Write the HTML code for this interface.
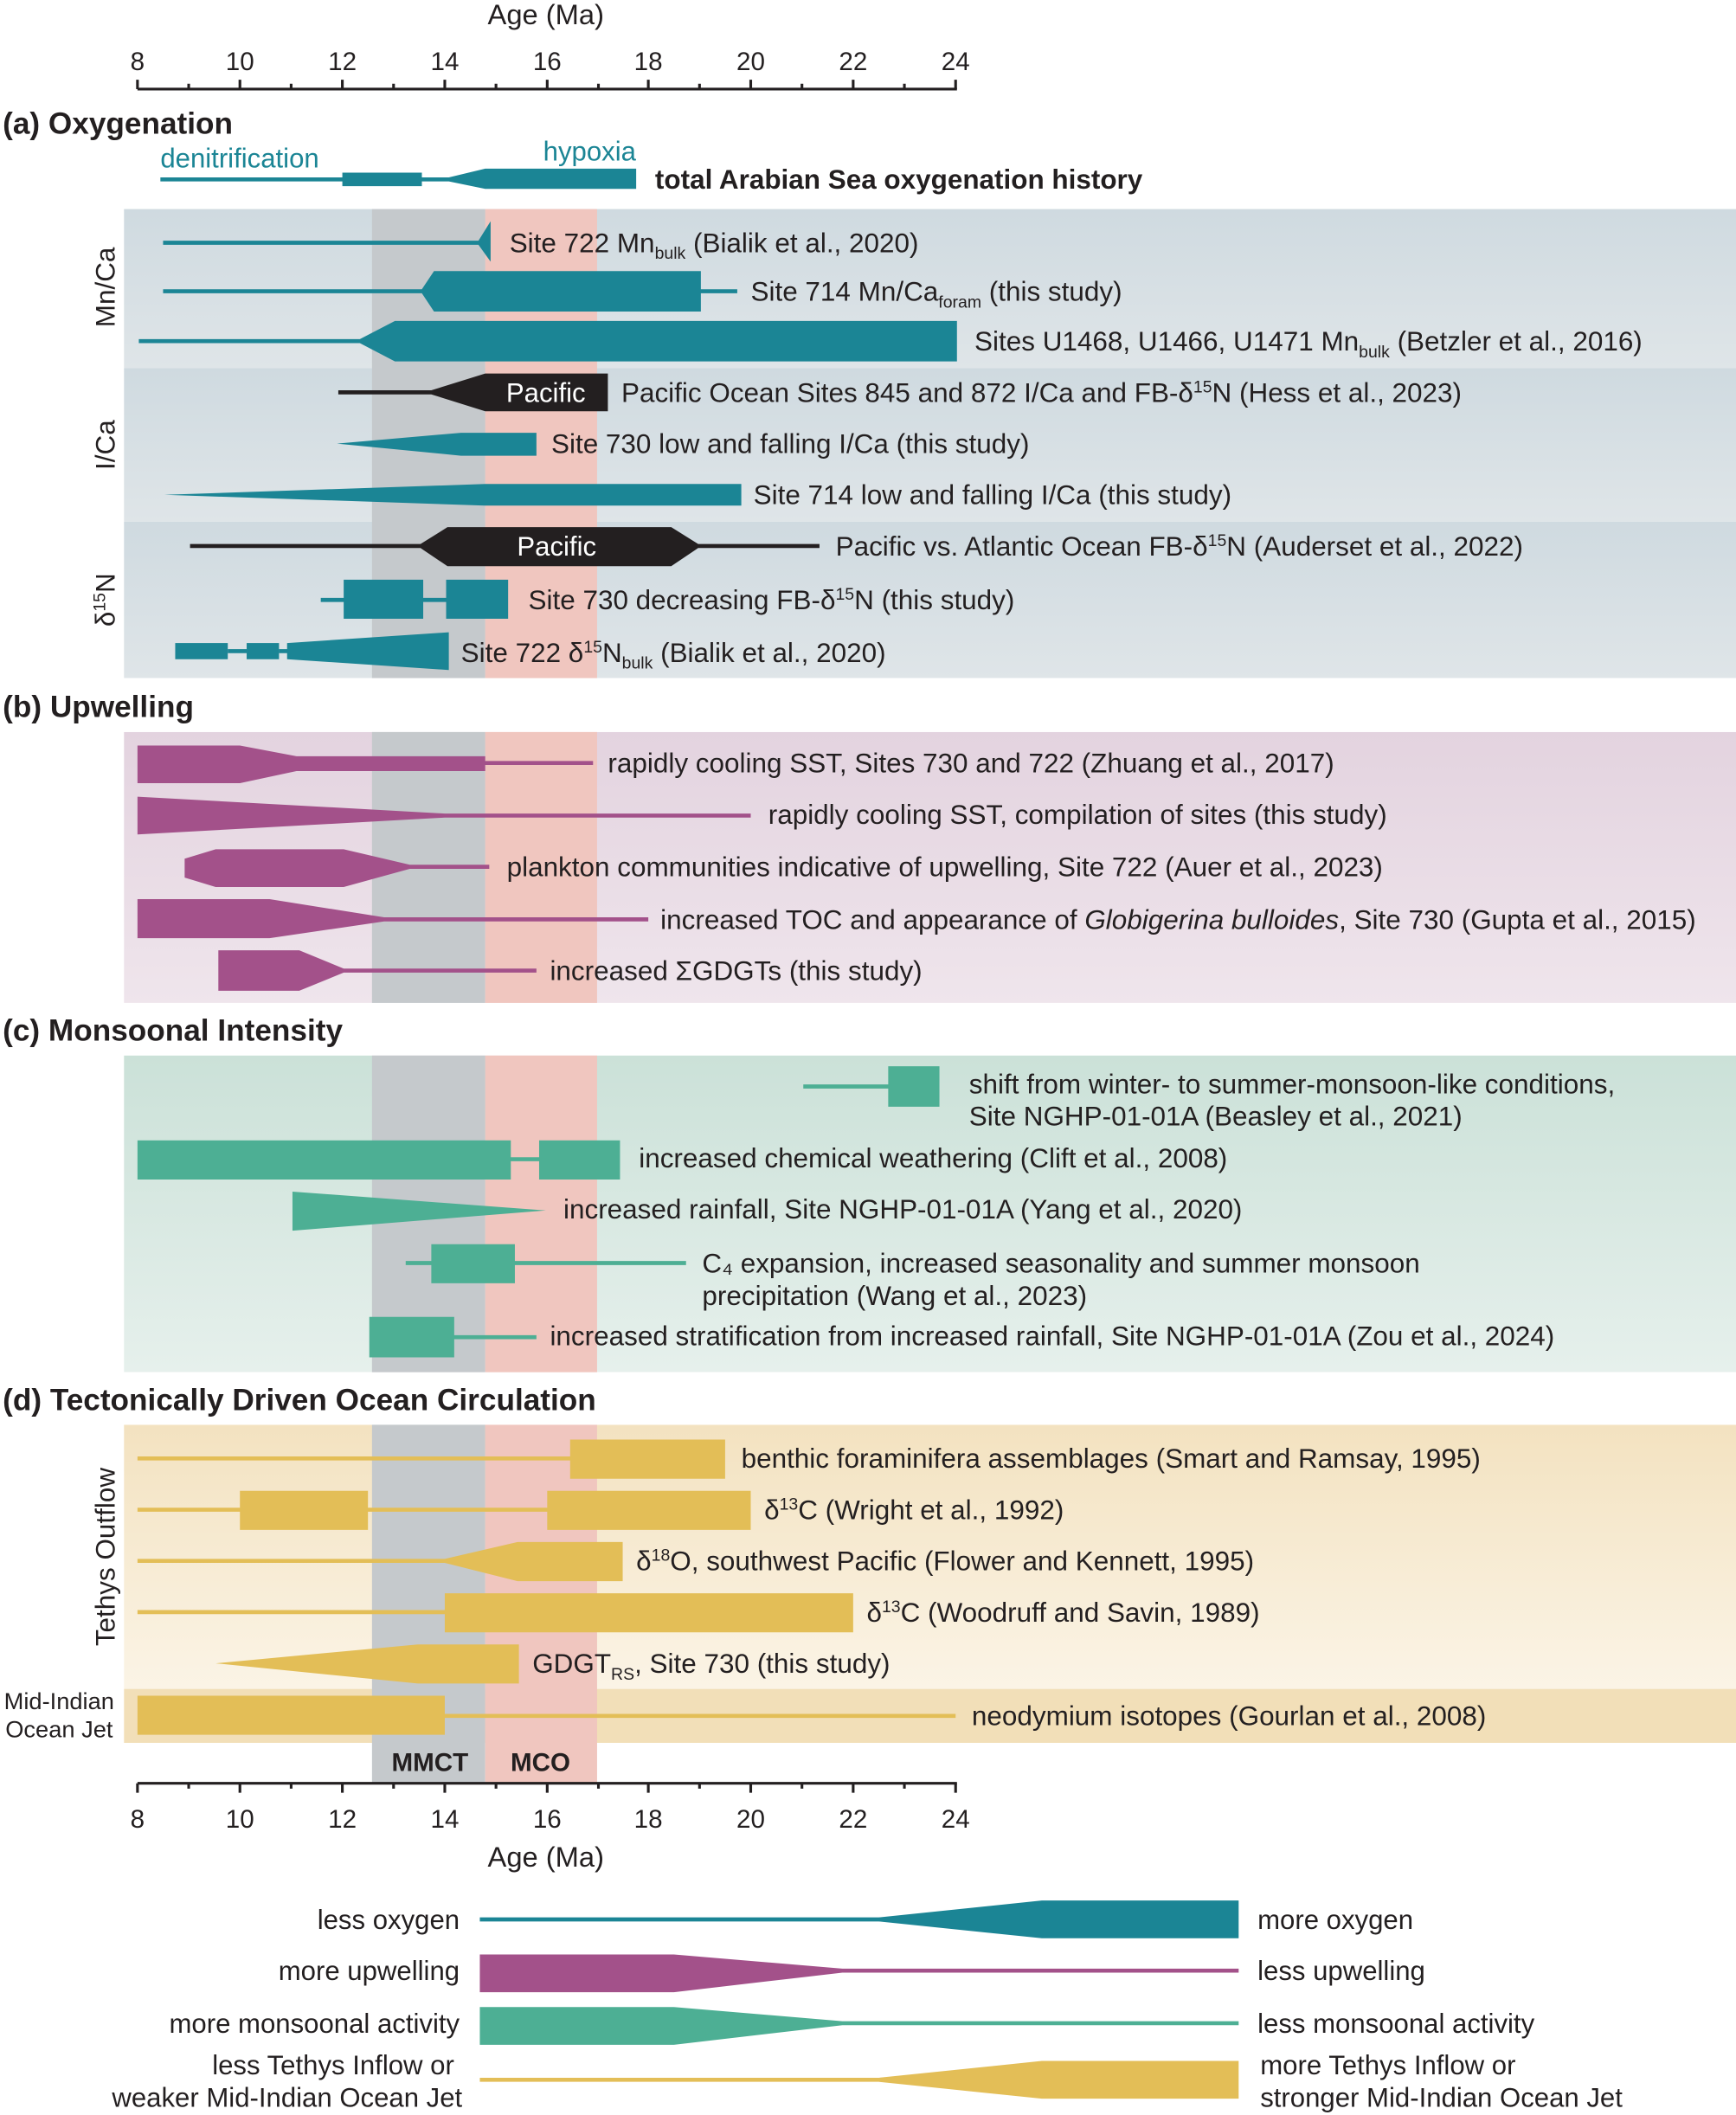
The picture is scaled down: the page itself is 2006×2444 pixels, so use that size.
<!DOCTYPE html>
<html><head><meta charset="utf-8"><style>body{margin:0;background:#fff}svg{display:block}</style></head><body>
<svg xmlns="http://www.w3.org/2000/svg" width="2006" height="2444" viewBox="0 0 1288 1569" font-family="Liberation Sans, Arial, sans-serif" fill="#231f20">
<defs>
<linearGradient id="ga" x1="0" y1="0" x2="0" y2="1"><stop offset="0" stop-color="#cfdae0"/><stop offset="1" stop-color="#dfe5e8"/></linearGradient>
<linearGradient id="gb" x1="0" y1="0" x2="0" y2="1"><stop offset="0" stop-color="#e3d3df"/><stop offset="1" stop-color="#efe5ec"/></linearGradient>
<linearGradient id="gc" x1="0" y1="0" x2="0" y2="1"><stop offset="0" stop-color="#cbe1d8"/><stop offset="1" stop-color="#e6f0ec"/></linearGradient>
<linearGradient id="gd" x1="0" y1="0" x2="0" y2="1"><stop offset="0" stop-color="#f3e2c0"/><stop offset="1" stop-color="#fbf4e6"/></linearGradient>
</defs>
<rect x="92" y="155" width="1196" height="118" fill="url(#ga)"/>
<rect x="92" y="273" width="1196" height="114" fill="url(#ga)"/>
<rect x="92" y="387" width="1196" height="116" fill="url(#ga)"/>
<rect x="92" y="543" width="1196" height="201" fill="url(#gb)"/>
<rect x="92" y="783" width="1196" height="235" fill="url(#gc)"/>
<rect x="92" y="1057" width="1196" height="196" fill="url(#gd)"/>
<rect x="92" y="1253" width="1196" height="40" fill="#f2dfb8"/>
<rect x="276" y="155" width="84" height="1168" fill="#c5c9cc"/>
<rect x="360" y="155" width="83" height="1168" fill="#f0c6bf"/>
<rect x="0" y="503" width="1288" height="40" fill="#fff"/>
<rect x="0" y="744" width="1288" height="39" fill="#fff"/>
<rect x="0" y="1018" width="1288" height="39" fill="#fff"/>
<text x="319" y="1314" font-size="19" font-weight="bold" text-anchor="middle">MMCT</text>
<text x="401" y="1314" font-size="19" font-weight="bold" text-anchor="middle">MCO</text>
<g stroke="#231f20" stroke-width="2">
<line x1="102" y1="66" x2="710" y2="66"/><line x1="102" y1="1323" x2="710" y2="1323"/>
<path d="M102 66v-7M178 66v-7M254 66v-7M330 66v-7M406 66v-7M481 66v-7M557 66v-7M633 66v-7M709 66v-7M140 66v-4M216 66v-4M292 66v-4M368 66v-4M444 66v-4M519 66v-4M595 66v-4M671 66v-4"/>
<path d="M102 1323v7M178 1323v7M254 1323v7M330 1323v7M406 1323v7M481 1323v7M557 1323v7M633 1323v7M709 1323v7M140 1323v4M216 1323v4M292 1323v4M368 1323v4M444 1323v4M519 1323v4M595 1323v4M671 1323v4"/>
</g>
<g font-size="19" text-anchor="middle">
<text x="102" y="52">8</text><text x="178" y="52">10</text><text x="254" y="52">12</text><text x="330" y="52">14</text><text x="406" y="52">16</text><text x="481" y="52">18</text><text x="557" y="52">20</text><text x="633" y="52">22</text><text x="709" y="52">24</text>
<text x="102" y="1356">8</text><text x="178" y="1356">10</text><text x="254" y="1356">12</text><text x="330" y="1356">14</text><text x="406" y="1356">16</text><text x="481" y="1356">18</text><text x="557" y="1356">20</text><text x="633" y="1356">22</text><text x="709" y="1356">24</text>
<text x="405" y="18" font-size="21">Age (Ma)</text><text x="405" y="1385" font-size="21">Age (Ma)</text>
</g>
<g font-size="22.6" font-weight="bold">
<text x="2" y="99">(a) Oxygenation</text><text x="2" y="532">(b) Upwelling</text><text x="2" y="772">(c) Monsoonal Intensity</text><text x="2" y="1046">(d) Tectonically Driven Ocean Circulation</text>
</g>
<g fill="#1b8595">
<text x="119" y="124" font-size="20">denitrification</text><text x="403" y="119" font-size="20">hypoxia</text>
<path d="M119 131.5H254V128H313V131.5H333L360 125H472V140H360L333 134.5H313V138H254V134.5H119Z"/>
<path d="M121 178.5H355L364 164V194L355 181.5H121Z"/>
<path d="M121 214.5H313L322 201H520V214.5H547V217.5H520V231H322L313 217.5H121Z"/>
<path d="M103 251.5H267L293 238H710V268H293L267 254.5H103Z"/>
<path d="M250 329L342 321H398V338H342Z"/>
<path d="M122 367L360 359H550V375H360Z"/>
<path d="M238 443.5H255V430H314V443.5H331V430H377V459H331V446.5H314V459H255V446.5H238Z"/>
<rect x="130" y="477" width="39" height="12"/><rect x="169" y="481.5" width="14" height="3"/><rect x="183" y="477" width="24" height="12"/><rect x="207" y="481.5" width="8" height="3"/>
<path d="M213 477L333 469V497L213 489Z"/>
</g>
<g fill="#231f20">
<path d="M251 289.5H320L360 277H451V305H360L320 292.5H251Z"/>
<path d="M141 403.5H312L332 391H498L518 403.5H608V406.5H518L498 420H332L312 406.5H141Z"/>
</g>
<text x="405" y="298" font-size="20" fill="#fff" text-anchor="middle">Pacific</text>
<text x="413" y="412" font-size="20" fill="#fff" text-anchor="middle">Pacific</text>
<text x="486" y="140" font-size="20.2" font-weight="bold">total Arabian Sea oxygenation history</text>
<g font-size="20.2">
<text x="378" y="187">Site 722 Mn<tspan font-size="12.5" dy="5">bulk</tspan><tspan dy="-5"> (Bialik et al., 2020)</tspan></text>
<text x="557" y="223">Site 714 Mn/Ca<tspan font-size="12.5" dy="5">foram</tspan><tspan dy="-5"> (this study)</tspan></text>
<text x="723" y="260">Sites U1468, U1466, U1471 Mn<tspan font-size="12.5" dy="5">bulk</tspan><tspan dy="-5"> (Betzler et al., 2016)</tspan></text>
<text x="461" y="298">Pacific Ocean Sites 845 and 872 I/Ca and FB-δ<tspan font-size="12.5" dy="-7">15</tspan><tspan dy="7">N (Hess et al., 2023)</tspan></text>
<text x="409" y="336">Site 730 low and falling I/Ca (this study)</text>
<text x="559" y="374">Site 714 low and falling I/Ca (this study)</text>
<text x="620" y="412">Pacific vs. Atlantic Ocean FB-δ<tspan font-size="12.5" dy="-7">15</tspan><tspan dy="7">N (Auderset et al., 2022)</tspan></text>
<text x="392" y="452">Site 730 decreasing FB-δ<tspan font-size="12.5" dy="-7">15</tspan><tspan dy="7">N (this study)</tspan></text>
<text x="342" y="491">Site 722 δ<tspan font-size="12.5" dy="-7">15</tspan><tspan dy="7">N</tspan><tspan font-size="12.5" dy="5">bulk</tspan><tspan dy="-5"> (Bialik et al., 2020)</tspan></text>
<text transform="translate(85,213) rotate(-90)" text-anchor="middle">Mn/Ca</text>
<text transform="translate(85,330) rotate(-90)" text-anchor="middle">I/Ca</text>
<text transform="translate(85,445) rotate(-90)" text-anchor="middle">δ<tspan font-size="12.5" dy="-7">15</tspan><tspan dy="7">N</tspan></text>
</g>
<g fill="#a3518a">
<path d="M102 553H178L220 561H360V564.5H440V567.5H360V572H220L178 581H102Z"/>
<path d="M102 591L330 603.5H557V606.5H330L102 619Z"/>
<path d="M137 637L160 630H255L304 641.5H363V644.5H304L255 658H160L137 651Z"/>
<path d="M102 667H200L285 680.5H481V683.5H285L200 696H102Z"/>
<path d="M162 705H222L255 718.5H398V721.5H255L222 735H162Z"/>
</g>
<g font-size="20.2">
<text x="451" y="573">rapidly cooling SST, Sites 730 and 722 (Zhuang et al., 2017)</text>
<text x="570" y="611">rapidly cooling SST, compilation of sites (this study)</text>
<text x="376" y="650">plankton communities indicative of upwelling, Site 722 (Auer et al., 2023)</text>
<text x="490" y="689">increased TOC and appearance of <tspan font-style="italic">Globigerina bulloides</tspan>, Site 730 (Gupta et al., 2015)</text>
<text x="408" y="727">increased ΣGDGTs (this study)</text>
</g>
<g fill="#4daf94">
<path d="M596 804.5H659V791H697V821H659V807.5H596Z"/>
<path d="M102 846H379V858.5H400V846H460V875H400V861.5H379V875H102Z"/>
<path d="M217 884L405 898L217 913Z"/>
<path d="M301 935.5H320V923H382V935.5H509V938.5H382V952H320V938.5H301Z"/>
<path d="M274 977H337V990.5H398V993.5H337V1007H274Z"/>
</g>
<g font-size="20.2">
<text x="719" y="811">shift from winter- to summer-monsoon-like conditions,</text>
<text x="719" y="835">Site NGHP-01-01A (Beasley et al., 2021)</text>
<text x="474" y="866">increased chemical weathering (Clift et al., 2008)</text>
<text x="418" y="904">increased rainfall, Site NGHP-01-01A (Yang et al., 2020)</text>
<text x="521" y="944">C₄ expansion, increased seasonality and summer monsoon</text>
<text x="521" y="968">precipitation (Wang et al., 2023)</text>
<text x="408" y="998">increased stratification from increased rainfall, Site NGHP-01-01A (Zou et al., 2024)</text>
</g>
<g fill="#e3be57">
<path d="M102 1080.5H423V1068H538V1097H423V1083.5H102Z"/>
<path d="M102 1118.5H178V1106H273V1118.5H406V1106H557V1135H406V1121.5H273V1135H178V1121.5H102Z"/>
<path d="M102 1156.5H330L384 1144H462V1173H384L330 1159.5H102Z"/>
<path d="M102 1194.5H330V1182H633V1211H330V1197.5H102Z"/>
<path d="M160 1234L310 1220H385V1249H310Z"/>
<path d="M102 1258H330V1271.5H709V1274.5H330V1287H102Z"/>
</g>
<g font-size="20.2">
<text x="550" y="1089">benthic foraminifera assemblages (Smart and Ramsay, 1995)</text>
<text x="567" y="1127">δ<tspan font-size="12.5" dy="-7">13</tspan><tspan dy="7">C (Wright et al., 1992)</tspan></text>
<text x="472" y="1165">δ<tspan font-size="12.5" dy="-7">18</tspan><tspan dy="7">O, southwest Pacific (Flower and Kennett, 1995)</tspan></text>
<text x="643" y="1203">δ<tspan font-size="12.5" dy="-7">13</tspan><tspan dy="7">C (Woodruff and Savin, 1989)</tspan></text>
<text x="395" y="1241">GDGT<tspan font-size="12.5" dy="5">RS</tspan><tspan dy="-5">, Site 730 (this study)</tspan></text>
<text x="721" y="1280">neodymium isotopes (Gourlan et al., 2008)</text>
<text transform="translate(85,1155) rotate(-90)" text-anchor="middle">Tethys Outflow</text>
<text x="3" y="1268" font-size="17.5">Mid-Indian</text><text x="4" y="1289" font-size="17.5">Ocean Jet</text>
</g>
<path fill="#1b8595" d="M356 1422.5H652L773 1410H919V1438H773L652 1425.5H356Z"/>
<path fill="#a3518a" d="M356 1450H500L625 1460.5H919V1463.5H625L500 1478H356Z"/>
<path fill="#4daf94" d="M356 1489H500L625 1499.5H919V1502.5H625L500 1517H356Z"/>
<path fill="#e3be57" d="M356 1541.5H652L773 1529H919V1557H773L652 1544.5H356Z"/>
<g font-size="20">
<text x="341" y="1431" text-anchor="end">less oxygen</text><text x="933" y="1431">more oxygen</text>
<text x="341" y="1469" text-anchor="end">more upwelling</text><text x="933" y="1469">less upwelling</text>
<text x="341" y="1508" text-anchor="end">more monsoonal activity</text><text x="933" y="1508">less monsoonal activity</text>
<text x="337" y="1539" text-anchor="end">less Tethys Inflow or</text><text x="343" y="1563" text-anchor="end">weaker Mid-Indian Ocean Jet</text>
<text x="935" y="1539">more Tethys Inflow or</text><text x="935" y="1563">stronger Mid-Indian Ocean Jet</text>
</g>
</svg>
</body></html>
